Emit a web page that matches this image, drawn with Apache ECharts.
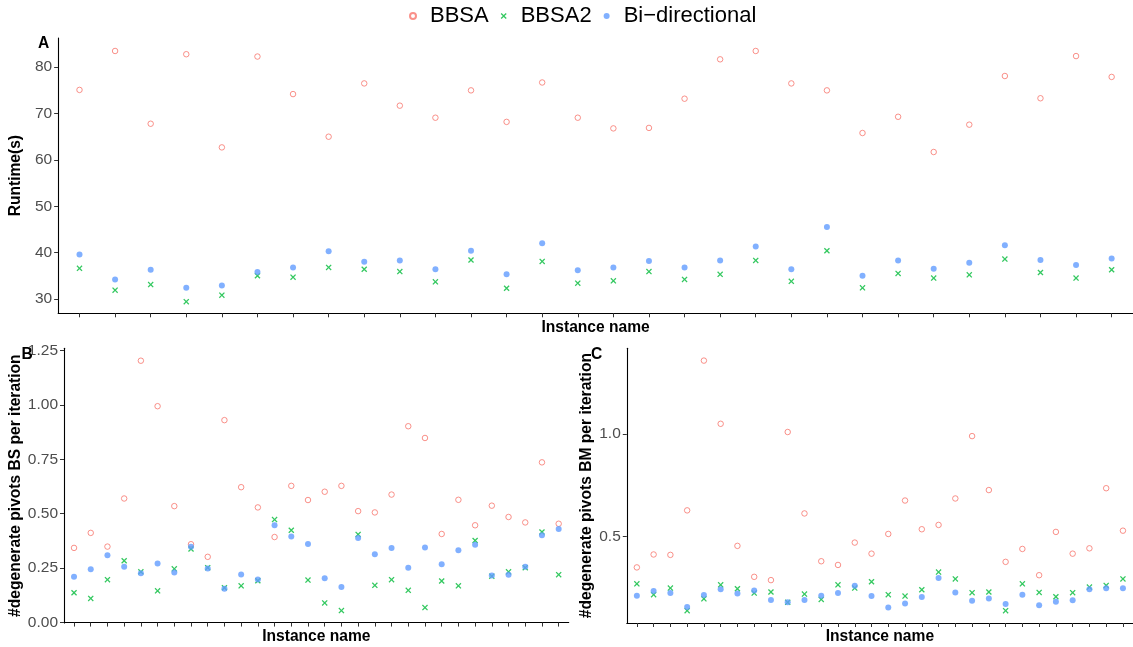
<!DOCTYPE html>
<html>
<head>
<meta charset="utf-8">
<script src="https://cdn.jsdelivr.net/npm/echarts@6/dist/echarts.min.js"></script>
<style>
html,body{margin:0;padding:0;background:#fff;}
#chart{width:1133px;height:647px;}
</style>
</head>
<body>
<div id="chart"></div>
<script>
// ---- data ----
const instances = [1,2,3,4,5,6,7,8,9,10,11,12,13,14,15,16,17,18,19,20,21,22,23,24,25,26,27,28,29,30];
const seriesNames = ['BBSA', 'BBSA2', 'Bi\u2212directional'];

const runtimeBBSA  = [75.1, 83.5, 67.8, 82.8, 62.7, 82.3, 74.2, 65.0, 76.5, 71.7, 69.1, 75.0, 68.2, 76.7, 69.1, 66.8, 66.9, 73.2, 81.7, 83.5, 76.5, 75.0, 65.8, 69.3, 61.7, 67.6, 78.1, 73.3, 82.4, 77.9];
const runtimeBBSA2 = [36.6, 31.9, 33.1, 29.4, 30.8, 35.0, 34.7, 36.8, 36.4, 35.9, 33.7, 38.4, 32.3, 38.1, 33.4, 33.9, 35.9, 34.2, 35.3, 38.3, 33.8, 40.4, 32.4, 35.5, 34.5, 35.2, 38.6, 35.7, 34.5, 36.3];
const runtimeBidir = [39.6, 34.2, 36.3, 32.4, 32.9, 35.8, 36.8, 40.3, 38.0, 38.3, 36.4, 40.4, 35.3, 42.0, 36.2, 36.8, 38.2, 36.8, 38.3, 41.3, 36.4, 45.5, 35.0, 38.3, 36.5, 37.8, 41.6, 38.4, 37.3, 38.7];

const bsBBSA  = [0.343, 0.412, 0.349, 0.570, 1.203, 0.994, 0.535, 0.360, 0.302, 0.930, 0.622, 0.529, 0.393, 0.628, 0.563, 0.601, 0.628, 0.512, 0.506, 0.588, 0.902, 0.848, 0.407, 0.564, 0.447, 0.537, 0.485, 0.460, 0.736, 0.454];
const bsBBSA2 = [0.137, 0.111, 0.197, 0.284, 0.233, 0.146, 0.247, 0.338, 0.252, 0.160, 0.169, 0.192, 0.473, 0.424, 0.195, 0.090, 0.055, 0.405, 0.171, 0.197, 0.148, 0.069, 0.191, 0.169, 0.377, 0.213, 0.233, 0.252, 0.416, 0.220];
const bsBidir = [0.210, 0.245, 0.309, 0.256, 0.226, 0.271, 0.230, 0.348, 0.248, 0.155, 0.221, 0.198, 0.447, 0.395, 0.361, 0.204, 0.163, 0.389, 0.314, 0.343, 0.252, 0.345, 0.268, 0.332, 0.358, 0.216, 0.220, 0.256, 0.401, 0.430];

const bmBBSA  = [0.350, 0.413, 0.411, 0.628, 1.358, 1.050, 0.455, 0.304, 0.288, 1.010, 0.613, 0.380, 0.362, 0.471, 0.417, 0.513, 0.676, 0.536, 0.557, 0.686, 0.990, 0.727, 0.377, 0.440, 0.312, 0.523, 0.417, 0.443, 0.736, 0.529];
const bmBBSA2 = [0.270, 0.217, 0.249, 0.139, 0.197, 0.265, 0.246, 0.225, 0.230, 0.180, 0.220, 0.194, 0.265, 0.249, 0.280, 0.217, 0.210, 0.241, 0.327, 0.294, 0.227, 0.230, 0.139, 0.270, 0.228, 0.207, 0.227, 0.254, 0.262, 0.294];
const bmBidir = [0.212, 0.235, 0.225, 0.157, 0.215, 0.244, 0.223, 0.238, 0.191, 0.180, 0.191, 0.212, 0.225, 0.260, 0.210, 0.155, 0.174, 0.206, 0.298, 0.228, 0.188, 0.199, 0.172, 0.217, 0.165, 0.183, 0.190, 0.244, 0.248, 0.248];

const runtimeTicks = [30, 40, 50, 60, 70, 80];
const bsTicks = [0, 0.25, 0.5, 0.75, 1.0, 1.25];
const bmTicks = [0.5, 1.0];

// ---- styling ----
const FONT = 'Liberation Sans, Arial, Helvetica, sans-serif';
const RED = '#F8766D', GREEN = '#00BA38', BLUE = '#619CFF';
const CROSS = 'path://M1.5,0L5,3.5L8.5,0L10,1.5L6.5,5L10,8.5L8.5,10L5,6.5L1.5,10L0,8.5L3.5,5L0,1.5Z';

function pairs(vals) { return instances.map((x, i) => [x, vals[i]]); }

function xAxis(gridIndex) {
  return {
    gridIndex, type: 'value', min: 0.4, max: 30.6,
    name: 'Instance name', nameLocation: 'middle', nameGap: 6,
    nameTextStyle: { fontFamily: FONT, fontSize: 15.6, fontWeight: 'bold', color: '#000' },
    axisLine: { show: true, lineStyle: { color: '#000', width: 1.1 } },
    axisTick: { show: true, length: 4, lineStyle: { color: '#333', width: 1 }, customValues: instances },
    axisLabel: { show: false, customValues: instances },
    splitLine: { show: false }
  };
}
function yAxis(gridIndex, name, min, max, ticks, digits, gap) {
  return {
    gridIndex, type: 'value', min, max,
    name, nameLocation: 'middle', nameGap: gap, nameRotate: 90,
    nameTextStyle: { fontFamily: FONT, fontSize: 15.6, fontWeight: 'bold', color: '#000' },
    axisLine: { show: true, lineStyle: { color: '#000', width: 1.1 } },
    axisTick: { show: true, length: 4, lineStyle: { color: '#333', width: 1 }, customValues: ticks },
    axisLabel: { show: true, customValues: ticks, margin: 6, fontFamily: FONT, fontSize: 15.5, color: '#4D4D4D',
                 formatter: v => Number(v).toFixed(digits) },
    splitLine: { show: false }
  };
}
function scatterSet(idx, a, b, c) {
  return [
    { name: seriesNames[0], type: 'scatter', xAxisIndex: idx, yAxisIndex: idx, data: pairs(a),
      symbol: 'circle', symbolSize: 5.5,
      itemStyle: { color: '#fff', borderColor: RED, borderWidth: 1 } },
    { name: seriesNames[1], type: 'scatter', xAxisIndex: idx, yAxisIndex: idx, data: pairs(b),
      symbol: CROSS, symbolSize: 6,
      itemStyle: { color: GREEN } },
    { name: seriesNames[2], type: 'scatter', xAxisIndex: idx, yAxisIndex: idx, data: pairs(c),
      symbol: 'circle', symbolSize: 6,
      itemStyle: { color: BLUE } }
  ];
}

const chart = echarts.init(document.getElementById('chart'), null, { renderer: 'canvas' });
chart.setOption({
  backgroundColor: '#fff',
  animation: false,
  title: [
    { text: 'A', left: 38, top: 36, padding: 0, textStyle: { fontFamily: FONT, fontSize: 15.6, fontWeight: 'bold', color: '#000' } },
    { text: 'B', left: 21.5, top: 347, padding: 0, textStyle: { fontFamily: FONT, fontSize: 15.6, fontWeight: 'bold', color: '#000' } },
    { text: 'C', left: 591, top: 346.5, padding: 0, textStyle: { fontFamily: FONT, fontSize: 15.6, fontWeight: 'bold', color: '#000' } }
  ],
  legend: {
    data: seriesNames, left: 409, top: 5, padding: 0,
    itemWidth: 24, itemHeight: 6, itemGap: 12,
    textStyle: { fontFamily: FONT, fontSize: 22, color: '#000' }
  },
  grid: [
    { left: 51, top: 38, width: 1089, height: 275.3 },
    { left: 64, top: 348.3, width: 504.7, height: 274.7 },
    { left: 626.8, top: 348.3, width: 513, height: 274.7 }
  ],
  xAxis: [xAxis(0), xAxis(1), xAxis(2)],
  yAxis: [
    yAxis(0, 'Runtime(s)', 26.9, 86.3, runtimeTicks, 0, 26),
    yAxis(1, '#degenerate pivots BS per iteration', -0.002, 1.26, bsTicks, 2, 40),
    yAxis(2, '#degenerate pivots BM per iteration', 0.079, 1.418, bmTicks, 1, 32.5)
  ],
  series: [].concat(
    scatterSet(0, runtimeBBSA, runtimeBBSA2, runtimeBidir),
    scatterSet(1, bsBBSA, bsBBSA2, bsBidir),
    scatterSet(2, bmBBSA, bmBBSA2, bmBidir)
  )
});
</script>
</body>
</html>
